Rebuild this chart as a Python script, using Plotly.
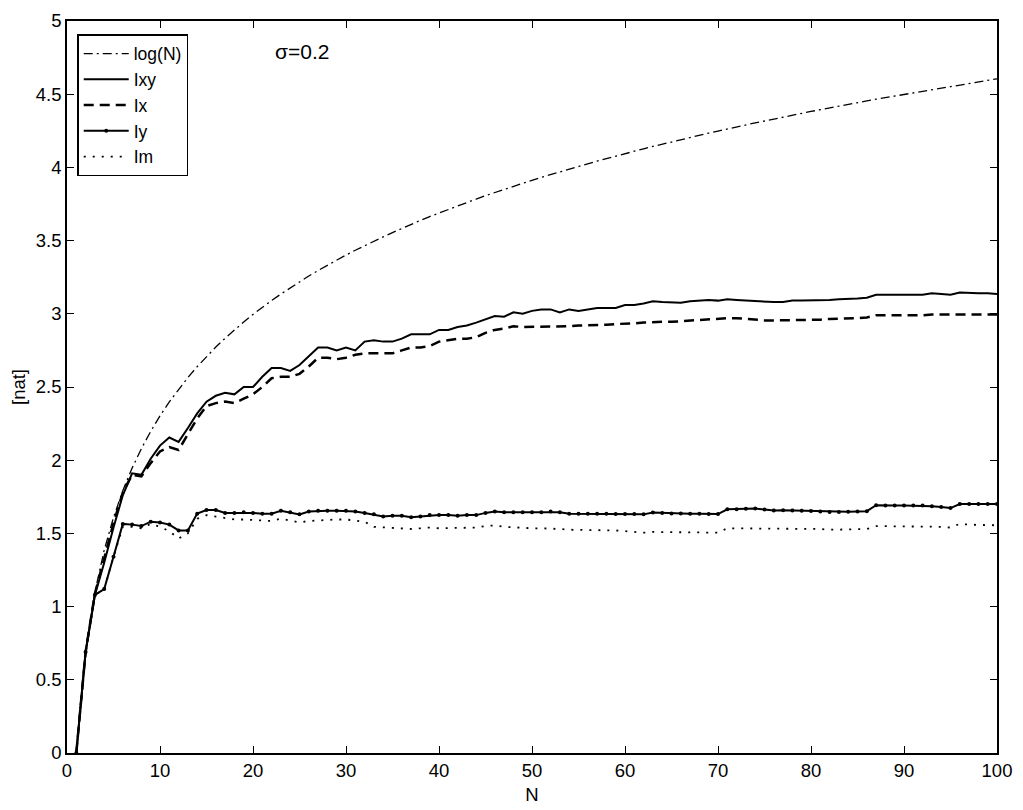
import plotly.graph_objects as go

# sample sizes
n_vals = list(range(1, 101))

# log(N) reference curve
log_n = [0.000, 0.693, 1.099, 1.386, 1.609, 1.792, 1.946, 2.079, 2.197, 2.303,
         2.398, 2.485, 2.565, 2.639, 2.708, 2.773, 2.833, 2.890, 2.944, 2.996,
         3.045, 3.091, 3.135, 3.178, 3.219, 3.258, 3.296, 3.332, 3.367, 3.401,
         3.434, 3.466, 3.497, 3.526, 3.555, 3.584, 3.611, 3.638, 3.664, 3.689,
         3.714, 3.738, 3.761, 3.784, 3.807, 3.829, 3.850, 3.871, 3.892, 3.912,
         3.932, 3.951, 3.970, 3.989, 4.007, 4.025, 4.043, 4.060, 4.078, 4.094,
         4.111, 4.127, 4.143, 4.159, 4.174, 4.190, 4.205, 4.220, 4.234, 4.248,
         4.263, 4.277, 4.290, 4.304, 4.317, 4.331, 4.344, 4.357, 4.369, 4.382,
         4.394, 4.407, 4.419, 4.431, 4.443, 4.454, 4.466, 4.477, 4.489, 4.500,
         4.511, 4.522, 4.533, 4.543, 4.554, 4.564, 4.575, 4.585, 4.595, 4.605]

ixy = [0.00, 0.69, 1.08, 1.30, 1.54, 1.76, 1.91, 1.90, 2.01, 2.10,
       2.155, 2.125, 2.22, 2.32, 2.40, 2.44, 2.46, 2.45, 2.50, 2.50,
       2.57, 2.63, 2.63, 2.61, 2.65, 2.71, 2.77, 2.77, 2.75, 2.77,
       2.75, 2.81, 2.82, 2.81, 2.81, 2.83, 2.86, 2.86, 2.86, 2.89,
       2.89, 2.91, 2.92, 2.94, 2.96, 2.985, 2.98, 3.01, 3.00, 3.02,
       3.03, 3.03, 3.01, 3.03, 3.02, 3.03, 3.04, 3.04, 3.04, 3.06,
       3.06, 3.07, 3.085, 3.08, 3.078, 3.076, 3.085, 3.09, 3.095, 3.09,
       3.10, 3.095, 3.09, 3.085, 3.08, 3.08, 3.08, 3.09, 3.09, 3.09,
       3.09, 3.095, 3.10, 3.10, 3.105, 3.11, 3.13, 3.13, 3.13, 3.13,
       3.13, 3.13, 3.14, 3.135, 3.13, 3.145, 3.14, 3.14, 3.14, 3.135]

ix = [0.00, 0.69, 1.09, 1.33, 1.57, 1.78, 1.90, 1.89, 1.98, 2.06,
      2.09, 2.07, 2.18, 2.285, 2.37, 2.39, 2.40, 2.39, 2.42, 2.45,
      2.50, 2.56, 2.57, 2.57, 2.59, 2.64, 2.70, 2.70, 2.69, 2.70,
      2.72, 2.73, 2.73, 2.73, 2.73, 2.75, 2.77, 2.77, 2.78, 2.81,
      2.82, 2.83, 2.83, 2.84, 2.87, 2.89, 2.90, 2.915, 2.91, 2.91,
      2.91, 2.915, 2.91, 2.915, 2.92, 2.92, 2.92, 2.925, 2.93, 2.93,
      2.935, 2.94, 2.944, 2.945, 2.945, 2.95, 2.955, 2.96, 2.965, 2.965,
      2.97, 2.97, 2.965, 2.955, 2.955, 2.955, 2.955, 2.955, 2.955, 2.955,
      2.96, 2.965, 2.965, 2.97, 2.97, 2.975, 2.99, 2.99, 2.99, 2.985,
      2.99, 2.99, 2.995, 2.995, 3.00, 3.00, 3.00, 3.00, 3.00, 2.995]

iy = [0.00, 0.69, 1.08, 1.12, 1.34, 1.565, 1.56, 1.55, 1.58, 1.575,
      1.56, 1.52, 1.52, 1.635, 1.66, 1.66, 1.64, 1.64, 1.645, 1.64,
      1.635, 1.635, 1.655, 1.645, 1.63, 1.65, 1.655, 1.655, 1.655, 1.655,
      1.65, 1.64, 1.63, 1.615, 1.62, 1.62, 1.61, 1.615, 1.625, 1.625,
      1.625, 1.62, 1.625, 1.625, 1.64, 1.65, 1.645, 1.645, 1.645, 1.645,
      1.645, 1.65, 1.645, 1.635, 1.635, 1.635, 1.635, 1.635, 1.633, 1.633,
      1.633, 1.63, 1.643, 1.64, 1.636, 1.636, 1.635, 1.634, 1.633, 1.632,
      1.665, 1.665, 1.668, 1.67, 1.663, 1.656, 1.658, 1.656, 1.655, 1.653,
      1.65, 1.647, 1.646, 1.648, 1.65, 1.652, 1.693, 1.69, 1.69, 1.69,
      1.69, 1.69, 1.685, 1.68, 1.673, 1.70, 1.70, 1.70, 1.70, 1.70]

im = [0.00, 0.69, 1.08, 1.12, 1.34, 1.545, 1.545, 1.535, 1.565, 1.545,
      1.515, 1.465, 1.50, 1.60, 1.625, 1.615, 1.60, 1.595, 1.595, 1.59,
      1.59, 1.585, 1.60, 1.585, 1.575, 1.585, 1.59, 1.595, 1.595, 1.595,
      1.59, 1.58, 1.545, 1.54, 1.54, 1.535, 1.53, 1.535, 1.54, 1.535,
      1.535, 1.535, 1.535, 1.54, 1.55, 1.555, 1.545, 1.54, 1.54, 1.535,
      1.535, 1.535, 1.53, 1.525, 1.525, 1.525, 1.525, 1.525, 1.52, 1.515,
      1.51, 1.505, 1.51, 1.51, 1.51, 1.505, 1.505, 1.505, 1.505, 1.505,
      1.535, 1.535, 1.535, 1.535, 1.53, 1.53, 1.53, 1.53, 1.53, 1.53,
      1.53, 1.525, 1.525, 1.525, 1.525, 1.53, 1.55, 1.55, 1.55, 1.55,
      1.55, 1.55, 1.55, 1.545, 1.54, 1.565, 1.56, 1.56, 1.56, 1.555]

FONT = "Liberation Sans, Arial, sans-serif"

fig = go.Figure()
fig.add_trace(go.Scatter(x=n_vals, y=log_n, name="log(N)", mode="lines",
                         line=dict(color="black", width=1.3, dash="9px,4px,2px,4px")))
fig.add_trace(go.Scatter(x=n_vals, y=ixy, name="Ixy", mode="lines",
                         line=dict(color="black", width=2)))
fig.add_trace(go.Scatter(x=n_vals, y=ix, name="Ix", mode="lines",
                         line=dict(color="black", width=2.5, dash="10px,6px")))
fig.add_trace(go.Scatter(x=n_vals, y=iy, name="Iy", mode="lines+markers",
                         line=dict(color="black", width=2),
                         marker=dict(color="black", size=4)))
fig.add_trace(go.Scatter(x=n_vals, y=im, name="Im", mode="lines",
                         line=dict(color="black", width=1.8, dash="2px,7px")))

fig.add_annotation(x=22.1, y=4.79, text="σ=0.2", showarrow=False,
                   xanchor="left", yanchor="middle",
                   font=dict(family=FONT, size=21, color="black"))

axis_style = dict(showgrid=False, zeroline=False, showline=True, linecolor="black",
                  linewidth=1.5, mirror="ticks", ticks="inside", ticklen=7,
                  tickcolor="black", automargin=False,
                  tickfont=dict(family=FONT, size=18.5, color="black"))

fig.update_xaxes(range=[0, 100], dtick=10, tick0=0,
                 title=dict(text="N", font=dict(family=FONT, size=18.5, color="black"),
                            standoff=8),
                 **axis_style)
fig.update_yaxes(range=[0, 5], dtick=0.5, tick0=0,
                 title=dict(text="[nat]", font=dict(family=FONT, size=18.5, color="black"),
                            standoff=6),
                 **axis_style)

# the page body adds an 8px offset, so the margins are shifted to match
fig.update_layout(
    width=1015, height=802,
    margin=dict(l=59, r=26, t=13, b=57),
    plot_bgcolor="white", paper_bgcolor="white",
    font=dict(family=FONT, size=18.5, color="black"),
    legend=dict(x=0.011, y=0.982, xanchor="left", yanchor="top",
                bgcolor="white", bordercolor="black", borderwidth=1.5,
                font=dict(family=FONT, size=17.5, color="black"),
                tracegroupgap=0, itemwidth=45),
    showlegend=True,
)

fig.write_html("out.html")
